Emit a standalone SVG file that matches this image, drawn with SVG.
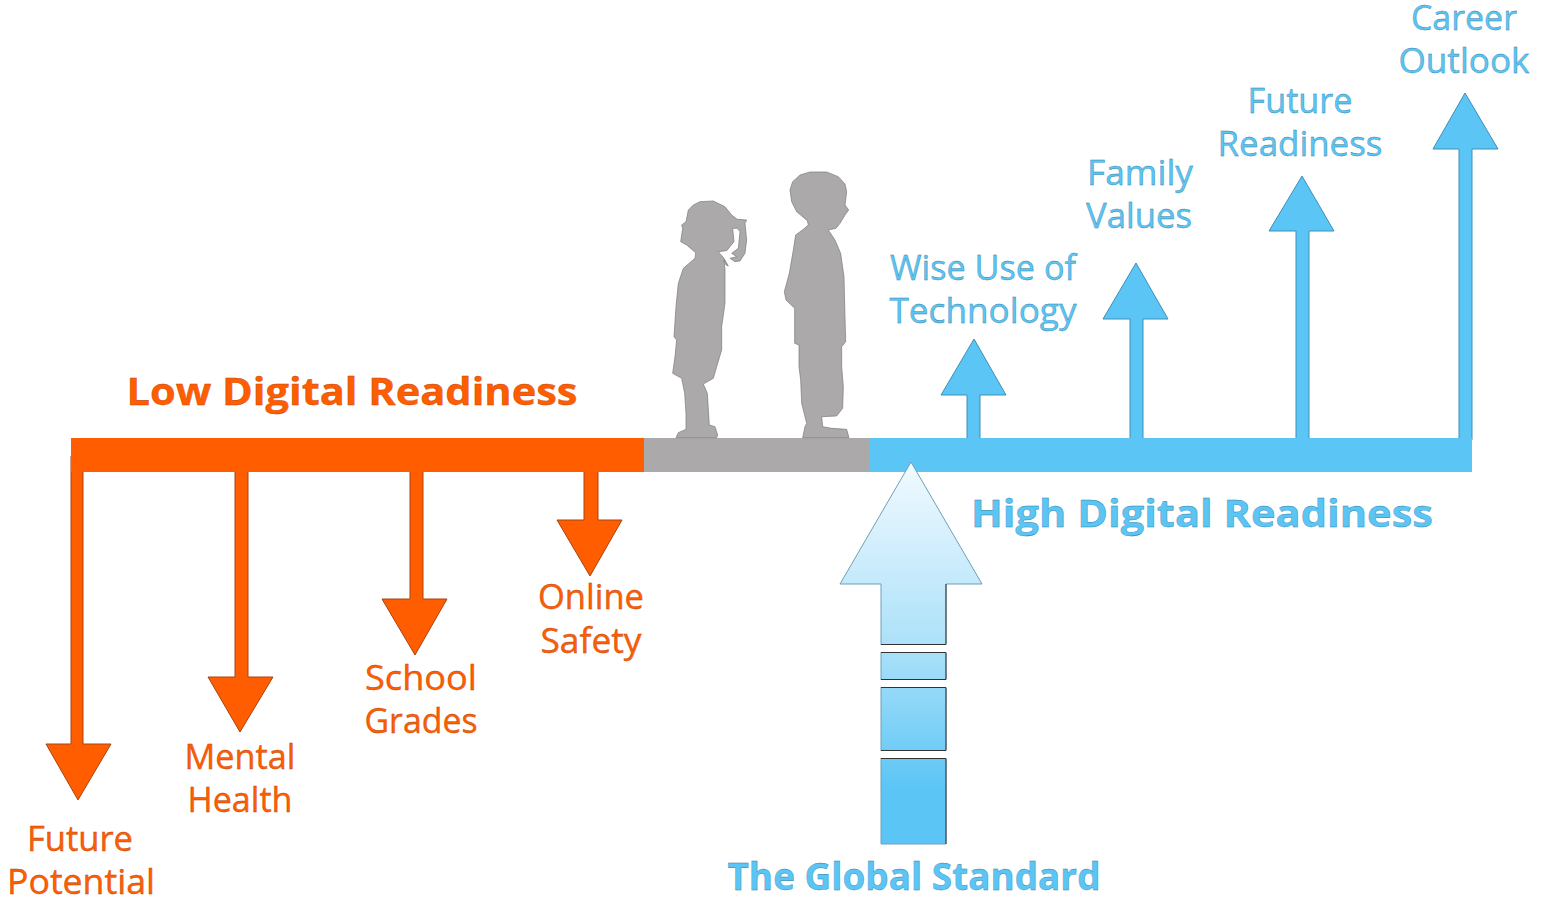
<svg xmlns="http://www.w3.org/2000/svg" width="1551" height="904" viewBox="0 0 1551 904">
<style>
text{font-family:"Open Sans","Noto Sans","Liberation Sans",sans-serif;text-anchor:middle;font-size:34px;stroke-width:.35px}
.o{fill:#ff5d00}.b{fill:#5bc5f5}.g{fill:#aba9aa}
.oe{stroke:#a84410;stroke-width:1}.be{stroke:#3f8fb5;stroke-width:1}
.lo{fill:#ff5d00;stroke:#b8480f}.lb{fill:#5bc5f5;stroke:#2f7ea3}
.h{font-weight:700;font-size:38px}
.kid{stroke:#777;stroke-width:2;stroke-linejoin:round}
</style>
<defs><linearGradient id="gr" gradientUnits="userSpaceOnUse" x1="0" y1="462" x2="0" y2="790"><stop offset="0" stop-color="#f2faff"/><stop offset="0.58" stop-color="#a9e0f9"/><stop offset="1" stop-color="#5bc5f5"/></linearGradient></defs>
<g id="connectors">
<path class="o oe" d="M71 456V744H46L78 800L111 744H83V456Z"/>
<path class="o oe" d="M235 470V677H208L240 732L273 677H248V470Z"/>
<path class="o oe" d="M410 470V599H382L415 655L447 599H423V470Z"/>
<path class="o oe" d="M584 470V520H557L590 576L622 520H598V470Z"/>
<path class="b be" d="M967 440V395H941L974 339L1006 395H980V440Z"/>
<path class="b be" d="M1130 440V319H1103L1136 263L1168 319H1143V440Z"/>
<path class="b be" d="M1296 440V231H1269L1302 176L1334 231H1309V440Z"/>
<path class="b be" d="M1459 440V149H1433L1465 93L1498 149H1472V440Z"/>
</g>
<g id="timeline-low"><rect class="o" x="71" y="438" width="573" height="34"/></g>
<g id="timeline-mid"><rect class="g" x="644" y="438" width="226" height="34"/></g>
<g id="timeline-high"><rect class="b" x="870" y="438" width="602" height="34"/></g>
<g id="children" transform="translate(650 160) scale(.33333)">
<path class="g kid" d="M78 833L85 818L108 808L108 760L104 700L95 655L68 640L75 590L80 540L72 530L78 440L85 370L100 325L135 295L137 278L110 255L92 245L98 205L95 195L108 185L115 150L130 135L150 125L190 123L225 140L245 165L262 178L290 180L285 190L290 240L285 280L270 303L255 305L240 295L260 290L245 280L265 265L270 215L262 205L248 205L252 245L230 272L205 275L222 295L235 318L228 315L222 300L225 330L225 430L215 500L215 570L200 620L190 655L160 672L172 700L178 795L195 800L203 825L200 833Z"/>
<path class="g kid" d="M458 833L465 800L470 790L455 730L452 660L447 620L447 555L434 550L434 445L408 420L403 395L418 340L430 270L437 225L460 208L475 195L472 182L440 155L425 125L420 90L428 65L450 45L480 36L530 36L565 50L585 72L590 95L585 135L596 150L585 165L570 190L558 205L535 210L555 240L572 280L582 350L585 470L587 545L575 560L575 620L580 680L578 745L560 768L515 770L518 800L545 805L590 808L597 833Z"/>
</g>
<g id="global-arrow">
<path fill="url(#gr)" stroke="#6f9fb5" d="M911 462L982 584H946V844H881V584H840Z"/>
<rect x="878" y="645" width="70" height="7" fill="#fff"/>
<rect x="878" y="680" width="70" height="7" fill="#fff"/>
<rect x="878" y="751" width="70" height="7" fill="#fff"/>
<path fill="none" stroke="#333" d="M881 644.500H946M881 652.500H946M881 679.500H946M881 687.500H946M881 750.500H946M881 758.500H946M946 584V644M946 653V679M946 688V750M946 759V844"/>
</g>
<g id="labels">
<text class="h lo" x="352" y="405" textLength="451" lengthAdjust="spacingAndGlyphs">Low Digital Readiness</text>
<text class="h lb" x="1202" y="527" textLength="462" lengthAdjust="spacingAndGlyphs">High Digital Readiness</text>
<text class="h lb" x="914" y="890" textLength="373" lengthAdjust="spacingAndGlyphs">The Global Standard</text>
<text class="lo" x="80" y="851" textLength="106" lengthAdjust="spacingAndGlyphs">Future</text><text class="lo" x="81" y="894" textLength="148" lengthAdjust="spacingAndGlyphs">Potential</text>
<text class="lo" x="240" y="769" textLength="111" lengthAdjust="spacingAndGlyphs">Mental</text><text class="lo" x="240" y="812" textLength="105" lengthAdjust="spacingAndGlyphs">Health</text>
<text class="lo" x="421" y="690" textLength="112" lengthAdjust="spacingAndGlyphs">School</text><text class="lo" x="421" y="733" textLength="113" lengthAdjust="spacingAndGlyphs">Grades</text>
<text class="lo" x="591" y="609" textLength="106" lengthAdjust="spacingAndGlyphs">Online</text><text class="lo" x="591" y="653" textLength="101" lengthAdjust="spacingAndGlyphs">Safety</text>
<text class="lb" x="983" y="280" textLength="186" lengthAdjust="spacingAndGlyphs">Wise Use of</text><text class="lb" x="983" y="323" textLength="187" lengthAdjust="spacingAndGlyphs">Technology</text>
<text class="lb" x="1140" y="185" textLength="106" lengthAdjust="spacingAndGlyphs">Family</text><text class="lb" x="1139" y="228" textLength="106" lengthAdjust="spacingAndGlyphs">Values</text>
<text class="lb" x="1300" y="113" textLength="105" lengthAdjust="spacingAndGlyphs">Future</text><text class="lb" x="1300" y="156" textLength="165" lengthAdjust="spacingAndGlyphs">Readiness</text>
<text class="lb" x="1464" y="30" textLength="106" lengthAdjust="spacingAndGlyphs">Career</text><text class="lb" x="1464" y="73" textLength="131" lengthAdjust="spacingAndGlyphs">Outlook</text>
</g>
</svg>
